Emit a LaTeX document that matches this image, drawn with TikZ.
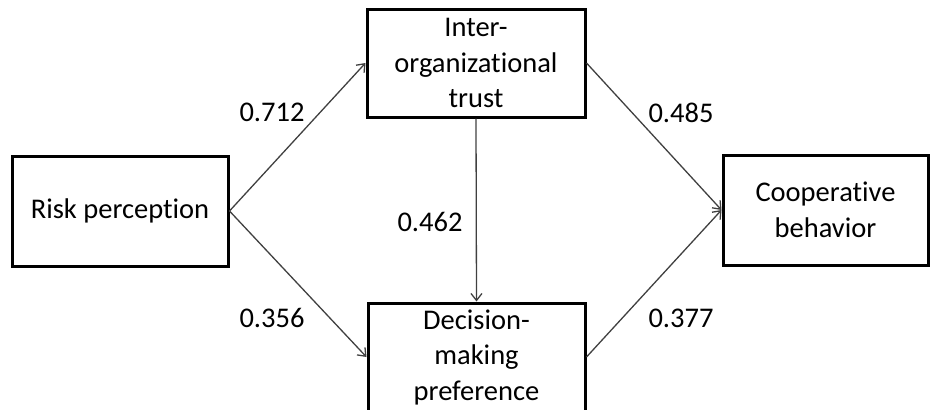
\documentclass[tikz,border=0pt]{standalone}
\usepackage{fontspec}
\setmainfont{Carlito}[Ligatures={NoCommon}]
\usetikzlibrary{arrows.meta}
\definecolor{arrowgray}{HTML}{404040}
\tikzset{
  box/.style={draw=black, line width=3pt, rectangle, inner sep=0pt, align=center,
    font=\fontsize{28.5}{35.5}\selectfont},
  lbl/.style={inner sep=0pt, font=\fontsize{28.5}{35.5}\selectfont},
  conn/.style={draw=arrowgray, line width=1.3pt, -{Straight Barb[length=7pt,width=11pt]}}
}
\begin{document}
\begin{tikzpicture}[x=1pt,y=-1pt]
\useasboundingbox (0,0) rectangle (930,410);
\clip (0,0) rectangle (930,410);
\node[box, minimum width=216pt, minimum height=110pt] (risk) at (120,211) {Risk perception};
\node[box, minimum width=218pt, minimum height=108pt] (trust) at (476,63) {Inter-\\organizational\\trust};
\node[box, minimum width=217pt, minimum height=108pt] (dec) at (476.5,357) {Decision-\\making\\preference};
\node[box, minimum width=205pt, minimum height=110pt] (coop) at (825.5,210) {Cooperative\\behavior};
\draw[conn] (risk.east) -- (trust.west);
\draw[conn] (risk.east) -- (dec.west);
\draw[conn] (trust.south) -- (dec.north);
\draw[conn] (trust.east) -- (coop.west);
\draw[conn] (dec.east) -- (coop.west);
\node[lbl] (l1) at (272,112) {0.712};
\node[lbl] (l2) at (272,318) {0.356};
\node[lbl] (l3) at (430,222) {0.462};
\node[lbl] (l4) at (681,113) {0.485};
\node[lbl] (l5) at (681,318) {0.377};
\end{tikzpicture}
\end{document}
